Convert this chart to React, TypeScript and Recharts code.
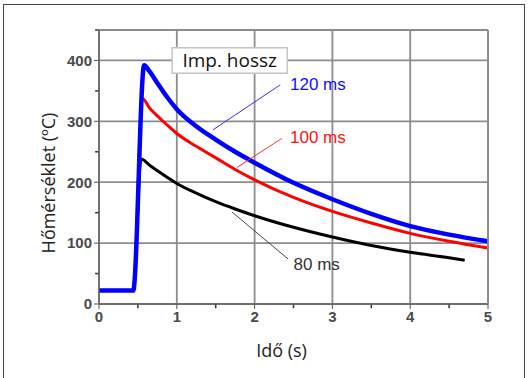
import React from "react";
import {
  LineChart,
  Line,
  XAxis,
  YAxis,
  CartesianGrid,
  ReferenceLine,
  ReferenceArea,
  ReferenceDot,
} from "recharts";

// readings per pulse length (time in s, temperature in °C)
const time120 = [0, 0.44, 0.58, 0.65, 0.75, 0.875, 1, 1.25, 1.5, 1.75, 2, 2.5, 3, 3.5, 4, 4.5, 5];
const temp120 = [22, 22, 392, 382, 363, 340, 320, 292, 270, 250, 232, 199, 172, 148, 128, 114, 103];

const time100 = [0, 0.44, 0.56, 0.65, 0.75, 0.875, 1, 1.25, 1.5, 1.75, 2, 2.5, 3, 3.5, 4, 4.5, 5];
const temp100 = [22, 22, 337, 322, 309, 294, 280, 259, 240, 221, 204, 175, 152, 133, 116, 103, 92];

const time80 = [0, 0.44, 0.54, 0.65, 0.75, 0.875, 1, 1.25, 1.5, 1.75, 2, 2.5, 3, 3.5, 4, 4.5, 4.7];
const temp80 = [22, 22, 238, 228, 219, 208, 198, 182, 168, 156, 145, 126, 110, 96, 85, 76, 72];

const xTicks = [0, 1, 2, 3, 4, 5];
const xMinorTicks = [0.5, 1.5, 2.5, 3.5, 4.5];
const yTicks = [0, 100, 200, 300, 400];
const yMinorTicks = [50, 150, 250, 350, 450];

const toPoints = (t: number[], v: number[]) => t.map((x, i) => ({ t: x, v: v[i] }));

const data120 = toPoints(time120, temp120);
const data100 = toPoints(time100, temp100);
const data80 = toPoints(time80, temp80);

const tickStyle = {
  fontFamily: "'Liberation Sans', Arial, sans-serif",
  fontSize: 15,
  fontWeight: "bold" as const,
  fill: "#4a4a4a",
};
const titleFont = "'Open Sans', 'Noto Sans', sans-serif";
const noteFont = "'Liberation Sans', Arial, sans-serif";

const YTitle = (props: any) => {
  const { viewBox } = props;
  const cx = 48;
  const cy = viewBox.y + viewBox.height / 2 + 16;
  return (
    <text
      x={cx}
      y={cy}
      transform={`rotate(-90 ${cx} ${cy})`}
      textAnchor="middle"
      dominantBaseline="central"
      fontFamily={titleFont}
      fontSize={18}
      fill="#222"
    >
      Hőmérséklet (ºC)
    </text>
  );
};

const XTitle = (props: any) => {
  const { viewBox } = props;
  return (
    <text
      x={viewBox.x + viewBox.width / 2 - 12}
      y={350}
      textAnchor="middle"
      dominantBaseline="central"
      fontFamily={titleFont}
      fontSize={18}
      fill="#222"
    >
      Idő (s)
    </text>
  );
};

export default function App() {
  return (
    <div style={{ position: "relative", width: 530, height: 378, background: "#fff" }}>
      <style>{`body{margin:0}`}</style>
      <div
        style={{
          position: "absolute",
          left: 3,
          top: 4,
          width: 522,
          height: 380,
          border: "1px solid #444",
          boxSizing: "border-box",
        }}
      />
      <LineChart
        width={530}
        height={378}
        margin={{ top: 30, right: 42, bottom: 24, left: 0 }}
        style={{ position: "absolute", left: 0, top: 0 }}
      >
        <CartesianGrid stroke="#8c8c8c" strokeWidth={1.8} />
        <XAxis
          dataKey="t"
          type="number"
          domain={[0, 5]}
          ticks={xTicks}
          height={50}
          tick={tickStyle}
          tickSize={5}
          tickLine={{ stroke: "#555" }}
          axisLine={{ stroke: "#666", strokeWidth: 1.5 }}
          allowDuplicatedCategory={false}
          label={<XTitle />}
        />
        <XAxis
          xAxisId="top"
          orientation="top"
          type="number"
          domain={[0, 5]}
          ticks={xTicks}
          mirror
          tickLine={false}
          tickFormatter={() => ""}
          axisLine={{ stroke: "#8c8c8c", strokeWidth: 1.8 }}
        />
        <YAxis
          type="number"
          domain={[0, 450]}
          ticks={yTicks}
          width={99}
          tick={tickStyle}
          tickSize={5}
          tickLine={{ stroke: "#555" }}
          axisLine={{ stroke: "#666", strokeWidth: 1.5 }}
          label={<YTitle />}
        />
        <YAxis
          yAxisId="right"
          orientation="right"
          type="number"
          domain={[0, 450]}
          ticks={yTicks}
          mirror
          tickLine={false}
          tickFormatter={() => ""}
          axisLine={{ stroke: "#8c8c8c", strokeWidth: 1.8 }}
        />

        {/* minor ticks */}
        {xMinorTicks.map((m) => (
          <ReferenceLine
            key={`mx${m}`}
            segment={[{ x: m, y: 0 }, { x: m, y: -7 }]}
            stroke="#333"
            strokeWidth={1.5}
            ifOverflow="visible"
          />
        ))}
        {yMinorTicks.map((m) => (
          <ReferenceLine
            key={`my${m}`}
            segment={[{ x: 0, y: m }, { x: -0.05, y: m }]}
            stroke="#333"
            strokeWidth={1.5}
            ifOverflow="visible"
          />
        ))}

        <Line
          data={data80}
          dataKey="v"
          type="monotone"
          stroke="#000"
          strokeWidth={3}
          dot={false}
          isAnimationActive={false}
        />
        <Line
          data={data100}
          dataKey="v"
          type="monotone"
          stroke="#ff0000"
          strokeWidth={3}
          dot={false}
          isAnimationActive={false}
        />
        <Line
          data={data120}
          dataKey="v"
          type="monotone"
          stroke="#0000ff"
          strokeWidth={4.5}
          dot={false}
          isAnimationActive={false}
        />

        <ReferenceLine
          segment={[{ x: 2.33, y: 360 }, { x: 1.465, y: 286 }]}
          stroke="#3030ff"
          strokeWidth={1}
        />
        <ReferenceLine
          segment={[{ x: 2.35, y: 272 }, { x: 1.77, y: 224 }]}
          stroke="#ff3030"
          strokeWidth={1}
        />
        <ReferenceLine
          segment={[{ x: 2.43, y: 74 }, { x: 1.71, y: 151 }]}
          stroke="#444"
          strokeWidth={1}
        />

        <ReferenceArea
          x1={0.94}
          x2={2.42}
          y1={379}
          y2={421}
          fill="#fff"
          fillOpacity={1}
          stroke="#c4c4c4"
          strokeWidth={1.5}
          label={{
            value: "Imp. hossz",
            position: "center",
            fontFamily: titleFont,
            fontSize: 19,
            fill: "#111",
          }}
        />

        <ReferenceDot
          x={2.455}
          y={362}
          r={0}
          fill="none"
          stroke="none"
          label={{
            value: "120 ms",
            position: "right",
            offset: 0,
            fontFamily: noteFont,
            fontSize: 17,
            fill: "#1010ff",
          }}
        />
        <ReferenceDot
          x={2.455}
          y={274}
          r={0}
          fill="none"
          stroke="none"
          label={{
            value: "100 ms",
            position: "right",
            offset: 0,
            fontFamily: noteFont,
            fontSize: 17,
            fill: "#ff1010",
          }}
        />
        <ReferenceDot
          x={2.5}
          y={66}
          r={0}
          fill="none"
          stroke="none"
          label={{
            value: "80 ms",
            position: "right",
            offset: 0,
            fontFamily: noteFont,
            fontSize: 17,
            fill: "#333",
          }}
        />
      </LineChart>
    </div>
  );
}
